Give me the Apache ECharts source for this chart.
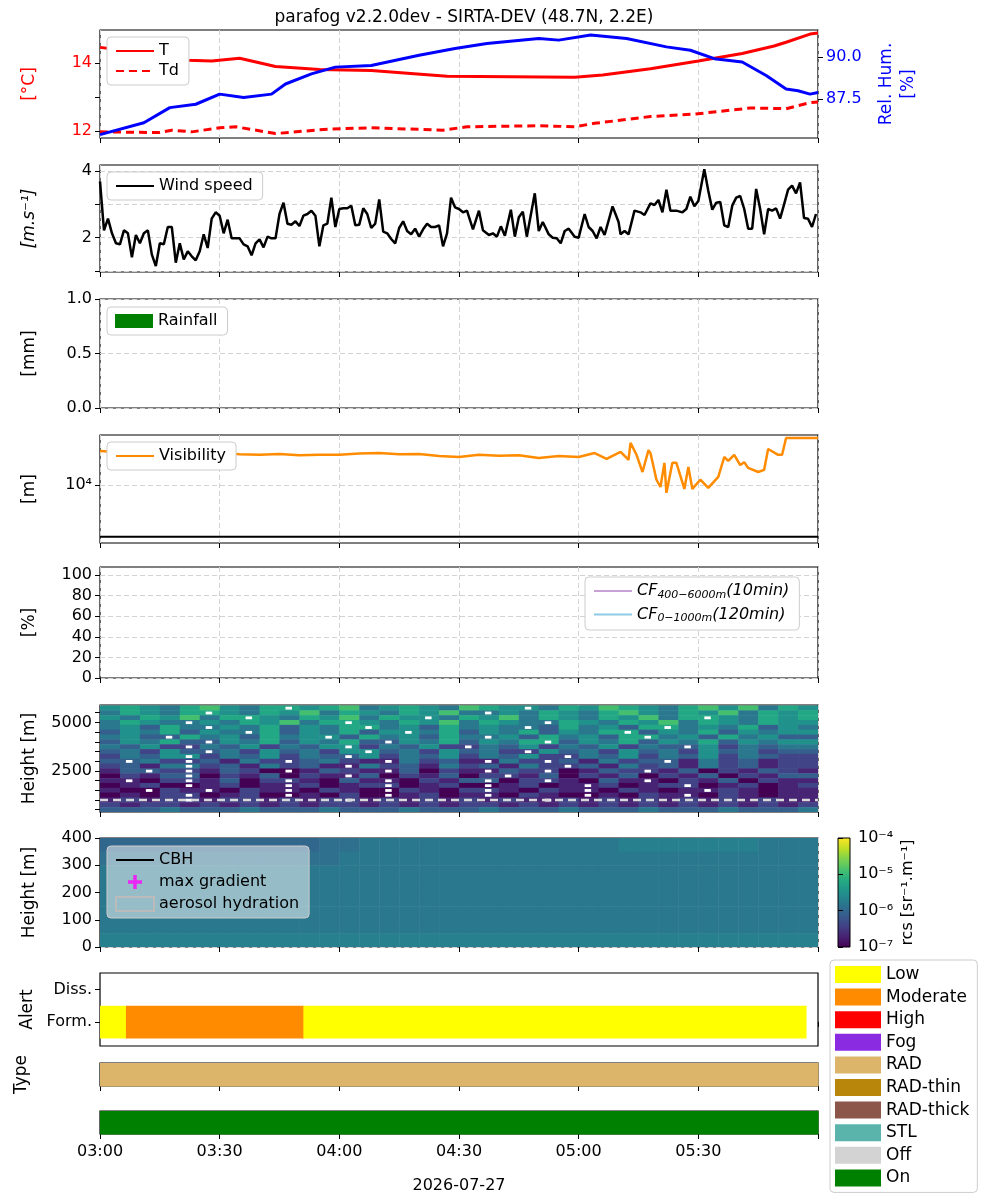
<!DOCTYPE html>
<html>
<head>
<meta charset="utf-8">
<script src="https://cdn.jsdelivr.net/npm/echarts@6/dist/echarts.min.js"></script>
<style>html,body{margin:0;background:#fff}#main{width:1000px;height:1200px}</style>
</head>
<body>
<div id="main"></div>
<script>
// minutes after 03:00
var tempTime = [0, 11, 22, 28, 35, 44, 55, 68, 87, 103, 119, 126, 138, 150, 161, 169, 172, 178, 180];
var tempT = [14.46, 14.30, 14.08, 14.06, 14.14, 13.90, 13.81, 13.78, 13.61, 13.60, 13.58, 13.65, 13.83, 14.06, 14.28, 14.50, 14.61, 14.85, 14.88];
var dewTime = [0, 15, 18, 23, 30, 34, 44, 57, 68, 86, 92, 110, 119, 124, 138, 149, 163, 172, 178, 180];
var dewTd = [11.98, 11.96, 12.03, 11.98, 12.10, 12.13, 11.93, 12.06, 12.10, 12.03, 12.13, 12.16, 12.13, 12.23, 12.43, 12.50, 12.68, 12.66, 12.84, 12.86];
var rhTime = [0, 11, 17.5, 24, 30, 36, 43, 46.5, 53, 59, 68, 80, 89, 97, 110, 115, 123, 132, 142, 148, 154, 161, 167, 172, 175, 178, 180];
var rhVal = [85.4, 86.1, 87.0, 87.2, 87.8, 87.6, 87.8, 88.4, 89.0, 89.4, 89.5, 90.1, 90.5, 90.8, 91.1, 91.0, 91.3, 91.1, 90.6, 90.4, 89.9, 89.7, 88.9, 88.1, 88.0, 87.8, 87.9];

var wind = [[0,3.69],[1,2.22],[2,2.57],[3,2.13],[4,1.83],[5,1.80],[6,2.22],[7,2.13],[8,1.41],[9,2.08],[10,1.83],[11,2.13],[12,2.22],[13,1.49],[14,1.15],[15,1.83],[16,1.80],[17,2.32],[18,2.32],[19,1.25],[20,1.83],[21,1.35],[22,1.59],[23,1.44],[24,1.32],[25,1.59],[26,2.10],[27,1.69],[28,2.57],[29,2.76],[30,2.66],[31,2.13],[32,2.54],[33,1.98],[34,1.98],[35,1.98],[36,1.80],[37,1.74],[38,1.47],[39,1.83],[40,1.95],[41,1.71],[42,2.03],[43,1.98],[44,1.98],[45,2.71],[46,3.05],[47,2.42],[48,2.39],[49,2.49],[50,2.35],[51,2.66],[52,2.71],[53,2.81],[54,2.66],[55,1.74],[56,2.37],[57,2.42],[58,3.20],[59,2.32],[60,2.86],[61,2.88],[62,2.88],[63,2.96],[64,2.37],[65,2.39],[66,2.88],[67,2.71],[68,2.29],[69,2.42],[70,3.15],[71,2.18],[72,2.13],[73,1.96],[74,1.83],[75,2.29],[76,2.49],[77,2.20],[78,2.10],[79,2.27],[80,2.03],[81,2.25],[82,2.42],[83,2.32],[84,2.32],[85,2.37],[86,1.74],[87,2.13],[88,3.20],[89,2.91],[90,2.86],[91,2.76],[92,2.81],[93.5,2.25],[95,2.81],[96,2.22],[97.5,2.08],[98.5,2.13],[99.5,2.03],[100.5,2.34],[101.5,2.06],[103,2.84],[104,2.03],[105,2.61],[106,2.78],[107,2.03],[109,3.33],[110,2.20],[111,2.47],[112.5,2.10],[113.5,2.00],[114.5,1.98],[115.5,1.83],[116.5,2.20],[117.5,2.27],[119,2.03],[120,2.00],[121.5,2.71],[122.5,2.32],[123.5,2.20],[124.5,1.98],[125.5,2.32],[126.5,2.08],[128.5,2.94],[130,2.47],[130.5,2.10],[131.5,2.20],[132.5,2.10],[134,2.81],[135.5,2.76],[136.5,2.68],[138,3.03],[139,2.98],[140,3.13],[141,2.76],[142,3.44],[143,2.81],[144.5,2.81],[145,2.84],[146,2.76],[147,2.86],[148,3.23],[149,2.94],[150,3.10],[151.5,4.05],[152.5,3.40],[153.5,2.84],[154.5,3.05],[155.5,3.07],[156.5,2.37],[157.5,2.32],[158.5,2.96],[159.5,3.20],[160.5,3.25],[161.5,2.86],[162.5,2.27],[163.5,2.27],[164.5,3.46],[165.5,2.86],[166.5,2.10],[167.5,2.86],[168.5,2.81],[169.5,2.88],[170.5,2.57],[171.5,3.00],[172.5,3.44],[173.5,3.56],[174.5,3.33],[175.5,3.66],[176.5,2.59],[177.5,2.57],[178.5,2.32],[179.5,2.71]];

var visTime = [0, 5, 10, 15, 20, 25, 30, 35, 40, 45, 50, 55, 60, 65, 70, 75, 80, 85, 90, 95, 100, 105, 110, 115, 120, 124, 127, 130.5, 132.5, 133, 134.5, 136, 137.5, 138, 139.5, 140.5, 141.5, 142, 143.5, 144.5, 146.5, 147.5, 148.5, 150.5, 152.5, 155, 156.5, 157.5, 159, 160.5, 161.5, 162.5, 165, 166.5, 167.5, 170, 171, 172, 180];
var visVal = [16500, 16200, 16400, 16000, 16300, 15900, 16100, 15700, 15600, 15800, 15500, 15600, 15600, 15900, 16000, 15700, 15800, 15300, 15100, 15600, 15400, 15500, 14900, 15300, 15100, 16000, 14700, 16300, 14500, 18600, 15600, 12100, 16700, 16000, 10800, 9700, 13850, 8900, 13850, 13850, 9430, 13050, 9430, 10800, 9570, 11250, 15100, 14250, 15600, 13400, 14000, 12850, 12100, 12500, 17000, 15600, 15600, 20000, 20000];
var visThreshold = 4650;

// rcs, 5-min columns, 250 m rows (top to bottom); digit d -> log10 = -7 + 0.3 d, '.' = no data
var rcsHeights = [5750, 5500, 5250, 5000, 4750, 4500, 4250, 4000, 3750, 3500, 3250, 3000, 2750, 2500, 2250, 2000, 1750, 1500, 1250, 1000, 750, 500];
var rcsRows = [
  "565467546.56745654765.46576546757465",
  "46546.5465746546574.5465467546574656",
  "5465746.54657465.4657465465746.54656",
  "4654.5465746.546574654.654657465465",
  "45364.5463546.4536454.364536.4546354",
  "3546354.6354635.4635463546.35463545",
  "453.6453645.3645364.5364536.4536453",
  "35463.54635463.5463546.354635463545",
  "4352.4352435.24352.4352435243.52434",
  "34253.4253425.3425342.5342534253423",
  "2435.2435243.5243524352.43524352432",
  "3.42.3142.3421.4231.42.31423.142312",
  "2314.2314231.4231423142.31423142312",
  "13.2.1320.1321.3021.32.0132.13021321",
  "0213.0213021.3021302.13021302130213",
  "1.02.1302.1031.0213.02.1031.0213021",
  "0120.1201.2012.0120.1201.2012.012012",
  "10.21.021.0210.2102.1021.02101.2101",
  "0102.0120.1020.1201.0210.1021.02101",
  "1212.1221212.121212121.212121212121",
  "212212121212212121221212121212121212",
  "333433343334333433343334333433343334"
];
// low rcs, 50 m rows (top to bottom); digit d -> log10 = -6.5 + 0.1 d
var lowHeights = [375, 325, 275, 225, 175, 125, 75, 25];
var lowRows = [
  "555555555556677777777777778888888777",
  "666666666666777777777777777777777777",
  "777777777777777777777777777777777777",
  "777777777777777777777777777777777777",
  "777777777777777777777777777777777777",
  "777777777777777777777777777777777777",
  "777777777777777777777777777777777777",
  "888888888888888888888888888888888888"
];

var alertStart = [0, 6.5, 51];
var alertEnd = [6.5, 51, 177];
var alertLevel = ['Low', 'Moderate', 'Low'];
var typeClass = 'RAD';
var onState = 'On';

var legendNames = ['Low', 'Moderate', 'High', 'Fog', 'RAD', 'RAD-thin', 'RAD-thick', 'STL', 'Off', 'On'];
var legendColors = ['#ffff00', '#ff8c00', '#ff0000', '#8a2be2', '#dcb46a', '#b8860b', '#8c564b', '#5ab4ac', '#d3d3d3', '#008000'];

var viridis = ['#440154', '#482475', '#414487', '#355f8d', '#2a788e', '#21918c', '#22a884', '#44bf70', '#7ad151', '#bddf26', '#fde725'];
function hex(c) { return [parseInt(c.substr(1, 2), 16), parseInt(c.substr(3, 2), 16), parseInt(c.substr(5, 2), 16)]; }
function vcolor(lg) {
  if (lg > 0) return '#ffffff';
  var f = Math.max(0, Math.min(1, (lg + 7) / 3)) * 10;
  var i = Math.min(9, Math.floor(f)), r = f - i;
  var a = hex(viridis[i]), b = hex(viridis[i + 1]);
  return 'rgb(' + [0, 1, 2].map(function (k) { return Math.round(a[k] + (b[k] - a[k]) * r); }).join(',') + ')';
}
function zip(a, b) { return a.map(function (v, i) { return [v, b[i]]; }); }
function hhmm(m) { var h = 3 + Math.floor(m / 60), mm = m % 60; return '0' + h + ':' + (mm < 10 ? '0' : '') + mm; }
function digitAt(row, i) {
  var j = Math.min(i, row.length - 1);
  while (j >= 0 && row.charAt(j) === '.') j--;
  if (j < 0) { j = 0; while (row.charAt(j) === '.') j++; }
  return Number(row.charAt(j));
}

// missing cells ('.') are drawn as a short white streak inside the cell
var rcsData = [];
rcsRows.forEach(function (row, r) {
  for (var i = 0; i < 36; i++) {
    var lg = -7 + 0.3 * digitAt(row, i);
    rcsData.push([i * 5, i * 5 + 5, rcsHeights[r] - 125, rcsHeights[r] + 125, lg]);
    if (row.charAt(i) === '.') rcsData.push([i * 5 + 1.5, i * 5 + 3, rcsHeights[r] - 60, rcsHeights[r] + 60, 1]);
  }
});
var lowData = [];
lowRows.forEach(function (row, r) {
  for (var i = 0; i < 36; i++) {
    lowData.push([i * 5, i * 5 + 5, lowHeights[r] - 25, lowHeights[r] + 25, -6.5 + 0.1 * digitAt(row, i)]);
  }
});
var alertData = alertStart.map(function (s, i) { return [s, alertEnd[i], -0.5, 0.5, legendNames.indexOf(alertLevel[i])]; });
var typeData = [[0, 180, 0, 1, legendNames.indexOf(typeClass)]];
var onData = [[0, 180, 0, 1, legendNames.indexOf(onState)]];

function rectItem(colorFn) {
  return function (params, api) {
    var p0 = api.coord([api.value(0), api.value(3)]);
    var p1 = api.coord([api.value(1), api.value(2)]);
    return {
      type: 'rect',
      shape: { x: p0[0], y: p0[1], width: p1[0] - p0[0] + 0.5, height: p1[1] - p0[1] + 0.5 },
      style: { fill: colorFn(api.value(4)) }
    };
  };
}
var catColor = function (v) { return legendColors[v]; };

var tops = [30, 165, 299, 435, 567, 705, 838, 973, 1063, 1111];
var heights = [108, 107, 109, 108, 111, 107, 109, 73, 23, 23];
var grids = tops.map(function (t, i) {
  return { left: 100, width: 718, top: t, height: heights[i], show: true, borderColor: '#000', borderWidth: 1.2, backgroundColor: 'transparent' };
});
grids.push({ left: 838, width: 12, top: 838, height: 109, show: true, borderColor: '#000', borderWidth: 1 });

var font = 'DejaVu Sans';
var gridLine = { show: true, lineStyle: { color: '#d3d3d3', type: [5, 3] } };
var xAxes = tops.map(function (t, i) {
  var last = i === tops.length - 1;
  return {
    type: 'value', gridIndex: i, min: 0, max: 180, interval: 30,
    axisLine: { show: false },
    axisTick: { show: true, length: 5, lineStyle: { color: '#000' } },
    axisLabel: { show: last, color: '#000', fontSize: 16, fontFamily: font, margin: 10, formatter: function (v) { return v < 180 ? hhmm(v) : ''; } },
    splitLine: i < 7 ? gridLine : { show: false },
    name: last ? '2026-07-27' : '', nameLocation: 'middle', nameGap: 44,
    nameTextStyle: { color: '#000', fontSize: 16, fontFamily: font }
  };
});
xAxes.push({ type: 'value', gridIndex: 10, show: false, min: 0, max: 1 });

function yAx(g, opt) {
  var base = {
    type: 'value', gridIndex: g,
    axisLine: { show: false },
    axisTick: { show: true, length: 5, lineStyle: { color: '#000' } },
    axisLabel: { color: '#000', fontSize: 16, fontFamily: font },
    splitLine: gridLine,
    nameLocation: 'middle', nameRotate: 90, nameGap: 50,
    nameTextStyle: { color: '#000', fontSize: 17, fontFamily: font }
  };
  for (var k in opt) base[k] = opt[k];
  return base;
}
var yAxes = [
  yAx(0, { min: 11.8, max: 14.97, name: '[°C]', nameGap: 62, nameTextStyle: { color: '#ff0000', fontSize: 17, fontFamily: font },
    axisTick: { customValues: [12, 13, 14], length: 5, lineStyle: { color: '#000' } },
    axisLabel: { customValues: [12, 14], color: '#ff0000', fontSize: 16, fontFamily: font }, splitLine: { show: false } }),
  yAx(0, { min: 85.2, max: 91.6, position: 'right', name: 'Rel. Hum.\n[%]', nameGap: 58, nameTextStyle: { color: '#0000ff', fontSize: 17, fontFamily: font, lineHeight: 22 },
    axisTick: { customValues: [87.5, 90], length: 5, lineStyle: { color: '#000' } },
    axisLabel: { customValues: [87.5, 90], color: '#0000ff', fontSize: 16, fontFamily: font, formatter: function (v) { return v.toFixed(1); } },
    splitLine: { show: false } }),
  yAx(1, { min: 0.97, max: 4.18, name: '[m.s⁻¹]', nameGap: 62, nameTextStyle: { color: '#000', fontSize: 17, fontFamily: font, fontStyle: 'italic' },
    axisTick: { customValues: [1, 2, 3, 4], length: 5, lineStyle: { color: '#000' } },
    axisLabel: { customValues: [2, 4], color: '#000', fontSize: 16, fontFamily: font } }),
  yAx(2, { min: 0, max: 1, interval: 0.5, name: '[mm]', nameGap: 62, axisLabel: { color: '#000', fontSize: 16, fontFamily: font, formatter: function (v) { return v.toFixed(1); } } }),
  yAx(3, { min: 3.628, max: 4.32, name: '[m]', nameGap: 62,
    axisTick: { customValues: [4], length: 5, lineStyle: { color: '#000' } },
    axisLabel: { customValues: [4], color: '#000', fontSize: 16, fontFamily: font, formatter: function () { return '10⁴'; } } }),
  yAx(4, { min: 0, max: 107.8, name: '[%]', nameGap: 62,
    axisTick: { customValues: [0, 20, 40, 60, 80, 100], length: 5, lineStyle: { color: '#000' } },
    axisLabel: { customValues: [0, 20, 40, 60, 80, 100], color: '#000', fontSize: 16, fontFamily: font } }),
  yAx(5, { min: 375, max: 5900, name: 'Height [m]', nameGap: 62,
    axisTick: { customValues: [500, 1000, 1500, 2000, 2500, 3000, 3500, 4000, 4500, 5000, 5500], length: 5, lineStyle: { color: '#000' } },
    axisLabel: { customValues: [2500, 5000], color: '#000', fontSize: 16, fontFamily: font, formatter: function (v) { return String(v); } }, splitLine: { show: false } }),
  yAx(6, { min: 0, max: 400, interval: 100, name: 'Height [m]', nameGap: 62, splitLine: gridLine }),
  yAx(7, { min: -0.75, max: 1.52, name: 'Alert', nameGap: 62,
    axisTick: { customValues: [0, 1], length: 5, lineStyle: { color: '#000' } },
    axisLabel: { customValues: [0, 1], color: '#000', fontSize: 16, fontFamily: font, formatter: function (v) { return v === 0 ? 'Form.' : 'Diss.'; } }, splitLine: { show: false } }),
  yAx(8, { min: 0, max: 1, name: 'Type', nameGap: 70, axisTick: { show: false }, axisLabel: { show: false }, splitLine: { show: false } }),
  yAx(9, { min: 0, max: 1, axisTick: { show: false }, axisLabel: { show: false }, splitLine: { show: false } }),
  yAx(10, { min: -7, max: -4, interval: 1, position: 'right', name: 'rcs [sr⁻¹.m⁻¹]', nameGap: 50, nameRotate: 90,
    nameTextStyle: { color: '#000', fontSize: 16, fontFamily: font },
    axisLabel: { color: '#000', fontSize: 16, fontFamily: font, formatter: function (v) { return '10' + { '-7': '⁻⁷', '-6': '⁻⁶', '-5': '⁻⁵', '-4': '⁻⁴' }[v]; } },
    splitLine: { show: false } })
];

var legendText = { color: '#000', fontSize: 16, fontFamily: font };
function boxLegend(names, left, top, extra) {
  var l = { data: names, left: left, top: top, orient: 'vertical', itemWidth: 38, itemHeight: 14, itemGap: 8,
    backgroundColor: '#fff', borderColor: '#ccc', borderWidth: 1, borderRadius: 4, padding: [6, 10, 6, 8],
    textStyle: legendText, selectedMode: false, itemStyle: { opacity: 0 } };
  for (var k in extra) l[k] = extra[k];
  return l;
}
var plus = 'path://M0,4 L3,4 L3,1 L5,1 L5,4 L8,4 L8,6 L5,6 L5,9 L3,9 L3,6 L0,6 Z';
var cfRich = { i: { fontStyle: 'italic', fontSize: 16, fontFamily: font }, s: { fontStyle: 'italic', fontSize: 11, fontFamily: font, verticalAlign: 'bottom', padding: [8, 0, 0, 0] } };

var series = [
  { name: 'T', type: 'line', xAxisIndex: 0, yAxisIndex: 0, symbol: 'none', data: zip(tempTime, tempT), lineStyle: { color: '#ff0000', width: 3 }, itemStyle: { color: '#ff0000' } },
  { name: 'Td', type: 'line', xAxisIndex: 0, yAxisIndex: 0, symbol: 'none', data: zip(dewTime, dewTd), lineStyle: { color: '#ff0000', width: 3, type: [8, 5] }, itemStyle: { color: '#ff0000' } },
  { name: 'RH', type: 'line', xAxisIndex: 0, yAxisIndex: 1, symbol: 'none', data: zip(rhTime, rhVal), lineStyle: { color: '#0000ff', width: 3 }, itemStyle: { color: '#0000ff' } },
  { name: 'Wind speed', type: 'line', xAxisIndex: 1, yAxisIndex: 2, symbol: 'none', data: wind, lineStyle: { color: '#000', width: 2.5 }, itemStyle: { color: '#000' } },
  { name: 'Rainfall', type: 'bar', xAxisIndex: 2, yAxisIndex: 3, data: [], itemStyle: { color: '#008000' } },
  { name: 'Visibility', type: 'line', xAxisIndex: 3, yAxisIndex: 4, symbol: 'none', data: visTime.map(function (t, i) { return [t, Math.log10(visVal[i])]; }), lineStyle: { color: '#ff8c00', width: 2.5 }, itemStyle: { color: '#ff8c00' } },
  { name: 'threshold', type: 'line', xAxisIndex: 3, yAxisIndex: 4, symbol: 'none', data: [[0, Math.log10(visThreshold)], [180, Math.log10(visThreshold)]], lineStyle: { color: '#000', width: 2 } },
  { name: 'cf1', type: 'line', xAxisIndex: 4, yAxisIndex: 5, symbol: 'none', data: [], lineStyle: { color: '#c8a2d6', width: 3 }, itemStyle: { color: '#c8a2d6' } },
  { name: 'cf2', type: 'line', xAxisIndex: 4, yAxisIndex: 5, symbol: 'none', data: [], lineStyle: { color: '#8ecae6', width: 3 }, itemStyle: { color: '#8ecae6' } },
  { name: 'rcs', type: 'custom', xAxisIndex: 5, yAxisIndex: 6, data: rcsData, encode: { x: [0, 1], y: [2, 3] }, renderItem: rectItem(vcolor), clip: true },
  { name: 'cbh1000', type: 'line', xAxisIndex: 5, yAxisIndex: 6, symbol: 'none', data: [[0, 1000], [180, 1000]], lineStyle: { color: '#d8d8d8', width: 2.5, type: [8, 5] }, z: 5 },
  { name: 'lowrcs', type: 'custom', xAxisIndex: 6, yAxisIndex: 7, data: lowData, encode: { x: [0, 1], y: [2, 3] }, renderItem: rectItem(vcolor), clip: true },
  { name: 'CBH', type: 'line', xAxisIndex: 6, yAxisIndex: 7, symbol: 'none', data: [], lineStyle: { color: '#000', width: 2.5 }, itemStyle: { color: '#000' } },
  { name: 'max gradient', type: 'scatter', xAxisIndex: 6, yAxisIndex: 7, data: [], itemStyle: { color: '#ff00ff' } },
  { name: 'aerosol hydration', type: 'bar', xAxisIndex: 6, yAxisIndex: 7, data: [], itemStyle: { color: 'rgba(0,0,0,0)', borderColor: '#bbb', borderWidth: 2 } },
  { name: 'alert', type: 'custom', xAxisIndex: 7, yAxisIndex: 8, data: alertData, encode: { x: [0, 1], y: [2, 3] }, renderItem: rectItem(catColor) },
  { name: 'type', type: 'custom', xAxisIndex: 8, yAxisIndex: 9, data: typeData, encode: { x: [0, 1], y: [2, 3] }, renderItem: rectItem(catColor) },
  { name: 'on', type: 'custom', xAxisIndex: 9, yAxisIndex: 10, data: onData, encode: { x: [0, 1], y: [2, 3] }, renderItem: rectItem(catColor) }
];
legendNames.forEach(function (n, i) {
  series.push({ name: n, type: 'bar', xAxisIndex: 7, yAxisIndex: 8, data: [], itemStyle: { color: legendColors[i] } });
});

var option = {
  animation: false,
  backgroundColor: '#fff',
  title: { text: 'parafog v2.2.0dev - SIRTA-DEV (48.7N, 2.2E)', left: 459, top: 4, textAlign: 'center',
    textStyle: { fontSize: 17, fontWeight: 'normal', color: '#000', fontFamily: font } },
  grid: grids,
  xAxis: xAxes,
  yAxis: yAxes,
  legend: [
    boxLegend(['T', 'Td'], 107, 37, { itemGap: 4 }),
    boxLegend(['Wind speed'], 107, 172),
    boxLegend(['Rainfall'], 107, 307, { icon: 'rect', itemStyle: {} }),
    boxLegend(['Visibility'], 107, 442),
    boxLegend(['cf1', 'cf2'], 585, 577, { itemGap: 6, formatter: function (n) {
      return n === 'cf1' ? '{i|CF}{s|400−6000m}{i|(10min)}' : '{i|CF}{s|0−1000m}{i|(120min)}';
    }, textStyle: { color: '#000', rich: cfRich } }),
    boxLegend(['CBH', 'max gradient', 'aerosol hydration'], 107, 846, { backgroundColor: 'rgba(255,255,255,0.5)', itemGap: 6, itemStyle: {},
      data: [{ name: 'CBH', itemStyle: { opacity: 0 } }, { name: 'max gradient', icon: plus, itemStyle: { color: '#ff00ff' } }, { name: 'aerosol hydration', icon: 'rect' }] }),
    boxLegend(legendNames, 830, 960, { icon: 'rect', itemStyle: {}, itemWidth: 46, itemHeight: 17, itemGap: 5.6, textStyle: { color: '#000', fontSize: 17, fontFamily: font }, padding: [6, 8, 6, 5] })
  ],
  graphic: [{
    type: 'rect', left: 838, top: 838, z: -1, shape: { width: 12, height: 109 },
    style: { fill: new echarts.graphic.LinearGradient(0, 1, 0, 0, viridis.map(function (c, i) { return { offset: i / 10, color: c }; })) }
  }],
  series: series
};

var chart = echarts.init(document.getElementById('main'));
chart.setOption(option);
</script>
</body>
</html>
